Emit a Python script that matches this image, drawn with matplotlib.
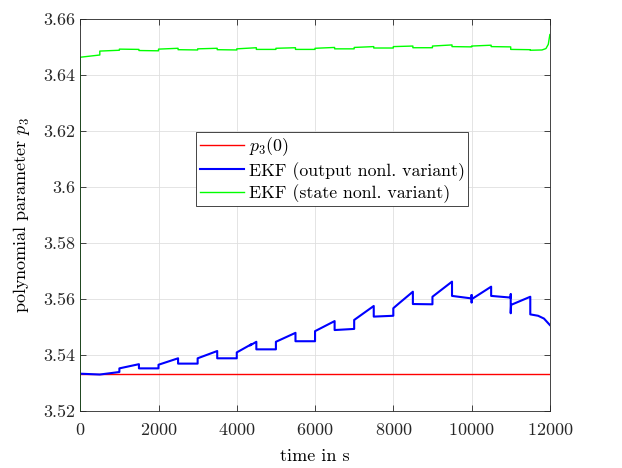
"""
Polynomial parameter p3 estimated by the two EKF variants
"""
import matplotlib
matplotlib.use("Agg")
import matplotlib.pyplot as plt
from matplotlib.ticker import FormatStrFormatter

plt.rcParams["font.family"] = ["cmr10", "DejaVu Serif"]
plt.rcParams["mathtext.fontset"] = "cm"
plt.rcParams["axes.formatter.use_mathtext"] = True

# initial value p3(0)
p3_init = 3.5333
t_end = 12000

# EKF, output nonlinearity variant (vertical jumps written as repeated times)
t_out = [0, 500, 1000, 1000, 1500, 1500, 2000, 2000, 2500, 2500,
         3000, 3000, 3500, 3500, 4000, 4000, 4370, 4340, 4500, 4500,
         5000, 5000, 5500, 5500, 6000, 6000, 6500, 6500, 7000, 7000,
         7500, 7500, 8000, 8000, 8150, 8500, 8500, 9000, 9000, 9500,
         9500, 10000, 10000, 10000, 10010, 10500, 10500, 11000, 11000, 11000,
         11010, 11500, 11500, 11700, 11850, 12000]
p_out = [3.5333, 3.5330, 3.5339, 3.5352, 3.5367, 3.5352, 3.5352, 3.5365, 3.5388, 3.5369,
         3.5369, 3.5388, 3.5414, 3.5388, 3.5388, 3.5409, 3.5438, 3.5434, 3.5447, 3.5420,
         3.5420, 3.5447, 3.5479, 3.5449, 3.5449, 3.5485, 3.5521, 3.5489, 3.5493, 3.5525,
         3.5575, 3.5537, 3.5540, 3.5567, 3.5585, 3.5626, 3.5582, 3.5581, 3.5608, 3.5662,
         3.5611, 3.5602, 3.5614, 3.5587, 3.5600, 3.5644, 3.5611, 3.5605, 3.5617, 3.5549,
         3.5579, 3.5608, 3.5545, 3.5540, 3.5530, 3.5507]

# EKF, state nonlinearity variant
t_state = [0, 0, 500, 500, 1000, 1000, 1500, 1500, 2000, 2000,
           2500, 2500, 3000, 3000, 3500, 3500, 4000, 4000, 4500, 4500,
           5000, 5000, 5500, 5500, 6000, 6000, 6500, 6500, 7000, 7000,
           7500, 7500, 8000, 8000, 8500, 8500, 9000, 9000, 9500, 9500,
           10000, 10000, 10500, 10500, 11000, 11000, 11500, 11500, 11800, 11900,
           11960, 12000]
p_state = [3.5200, 3.6464, 3.6472, 3.6486, 3.6489, 3.6493, 3.6492, 3.6488, 3.6487, 3.6493,
           3.6496, 3.6491, 3.6490, 3.6494, 3.6496, 3.6491, 3.6490, 3.6494, 3.6498, 3.6492,
           3.6492, 3.6496, 3.6498, 3.6492, 3.6492, 3.6496, 3.6499, 3.6494, 3.6494, 3.6499,
           3.6502, 3.6497, 3.6497, 3.6502, 3.6504, 3.6498, 3.6498, 3.6504, 3.6508, 3.6502,
           3.6501, 3.6504, 3.6507, 3.6502, 3.6501, 3.6492, 3.6491, 3.6489, 3.6490, 3.6495,
           3.6510, 3.6545]

y_ticks = [3.52, 3.54, 3.56, 3.58, 3.6, 3.62, 3.64, 3.66]
x_ticks = [0, 2000, 4000, 6000, 8000, 10000, 12000]


def main():
    fig = plt.figure(figsize=(6.22, 4.68), dpi=100)
    ax = fig.add_axes([0.129, 0.122, 0.755, 0.837])

    ax.plot([0, t_end], [p3_init, p3_init], color="#ff0000", lw=1.0, label=r"$p_3(0)$")
    ax.plot(t_out, p_out, color="#0000ff", lw=1.5, label="EKF (output nonl. variant)")
    ax.plot(t_state, p_state, color="#00ff00", lw=1.0, label="EKF (state nonl. variant)")

    ax.set_xlim(0, t_end)
    ax.set_ylim(3.52, 3.66)
    ax.set_xticks(x_ticks)
    ax.set_yticks(y_ticks)
    ax.yaxis.set_major_formatter(FormatStrFormatter("%g"))
    ax.tick_params(direction="in", top=True, right=True, labelsize=13,
                   length=4, width=0.6, color="#262626", labelcolor="#262626")
    ax.tick_params(axis="x", pad=8)
    ax.grid(True, color="#dfdfdf", lw=0.6)
    ax.set_axisbelow(True)
    for s in ax.spines.values():
        s.set_color("#262626")
        s.set_linewidth(0.6)

    ax.set_xlabel("time in s", fontsize=13, labelpad=8)
    ax.set_ylabel(r"polynomial parameter $p_3$", fontsize=13, labelpad=8)

    leg = ax.legend(loc="upper left", bbox_to_anchor=(0.247, 0.712), borderaxespad=0,
                    fontsize=12.8, fancybox=False, framealpha=1, edgecolor="#262626",
                    handlelength=2.5, handletextpad=0.25, labelspacing=0.2,
                    borderpad=0.2)
    leg.get_frame().set_linewidth(0.6)

    fig.savefig("out.png", dpi=100)
    plt.close(fig)


if __name__ == "__main__":
    main()
